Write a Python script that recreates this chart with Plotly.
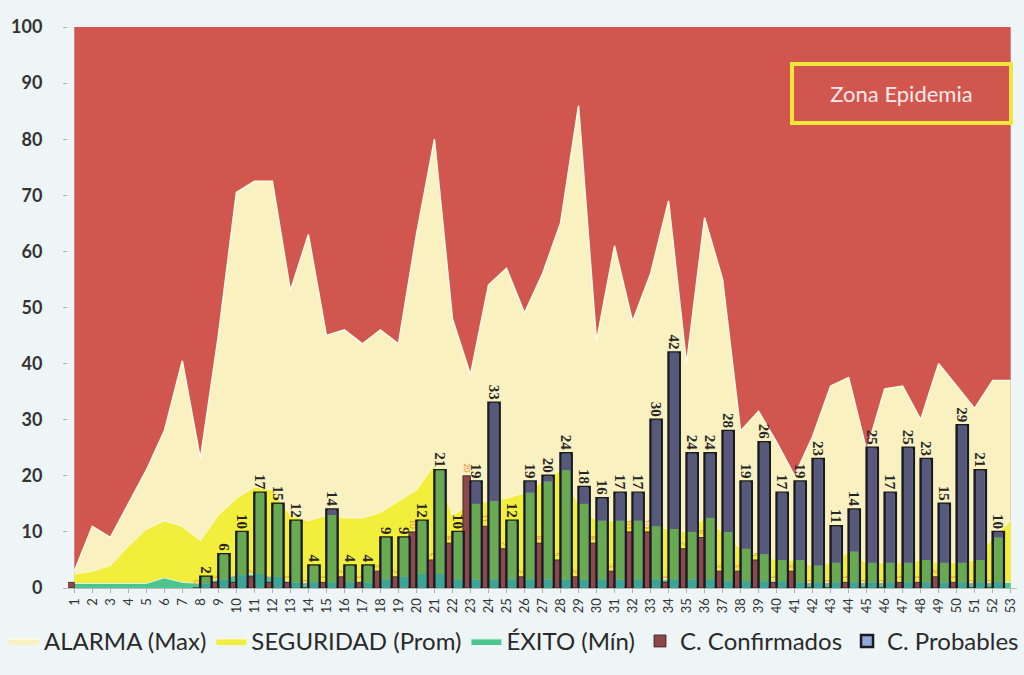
import plotly.graph_objects as go

weeks = list(range(1, 54))
week_labels = [str(w) for w in weeks]

zona_epidemia = [100] * 53

alarma_max = [3, 11, 9, 15, 21, 28, 40.5, 23, 45, 70.5,
              72.5, 72.5, 53, 63, 45, 46, 43.5, 46, 43.5, 63,
              80, 48, 38, 54, 57, 49, 56, 65, 86, 44,
              61, 47.5, 56, 69, 40, 66, 55, 28, 31.5, 26,
              20, 27, 36, 37.5, 24.5, 35.5, 36, 30, 40, 36,
              32, 37, 37]

seguridad_prom = [2.5, 3, 4, 7.5, 10.5, 12, 11, 8.5, 13, 16,
                  18, 17.5, 13, 12, 13, 12.5, 12.5, 13.5, 15.5, 17.5,
                  22, 13, 15, 15.5, 16, 17, 19, 21, 15, 12,
                  12, 12, 11, 10.5, 10, 12.5, 10, 7, 6, 5,
                  5, 4, 4.5, 6.5, 4.5, 4.5, 4.5, 5, 4.5, 4.5,
                  5, 9, 12]

exito_min = [0.8, 0.8, 0.8, 0.8, 0.8, 1.8, 1, 0.8, 1.5, 2.3,
             2.5, 2, 1, 1, 1, 1, 1, 1.5, 2, 2.5,
             2.5, 1.5, 1.5, 1.5, 1.5, 1.5, 1.5, 1.5, 1.5, 1.5,
             1.5, 1.5, 1.5, 1.5, 1.5, 1.5, 1.2, 1.2, 1.2, 1.2,
             1, 1, 1, 1, 1, 1, 1, 1, 1, 1,
             1, 1, 1]

c_confirmados = [1, None, None, None, None, None, None,
                 0, 1, 1, 2, 1, 1, 0, 1, 2, 1,
                 3, 2, 10, 5, 8, 20, 11, 7, 2, 8,
                 5, 2, 8, 3, 10, 10, 1, 7, 9, 3,
                 3, 5, 1, 3, 0, 0, 1, 0, 0, 1,
                 1, 2, 1, 0, 0,
                 None]

c_probables = [None, None, None, None, None, None, None,
               2, 6, 10, 17, 15, 12, 4, 14, 4, 4,
               9, 9, 12, 21, 10, 19, 33, 12, 19, 20,
               24, 18, 16, 17, 17, 30, 42, 24, 24, 28,
               19, 26, 17, 19, 23, 11, 14, 25, 17, 25,
               23, 15, 29, 21, 10,
               None]

RED = "#d1564e"
CREAM = "#f9f1bf"
YELLOW = "#f1ee3c"
GREEN = "#4cc58e"
BROWN = "#8d484c"
BAR_GREEN = "#67aa52"
BAR_GRAY = "#56597a"
BAR_TEAL = "#3aa595"
FONT = "Lato, sans-serif"

fig = go.Figure()

# --- areas (main axes, drawn below) ---
fig.add_trace(go.Scatter(x=weeks, y=zona_epidemia, mode="lines", fill="tozeroy",
                         fillcolor=RED, line=dict(width=0, color=RED),
                         showlegend=False, hoverinfo="skip"))
fig.add_trace(go.Scatter(x=weeks, y=alarma_max, name="ALARMA (Max)", mode="lines",
                         fill="tozeroy", fillcolor=CREAM,
                         line=dict(color="#fffbe8", width=1.5)))
fig.add_trace(go.Scatter(x=weeks, y=seguridad_prom, name="SEGURIDAD (Prom)", mode="lines",
                         fill="tozeroy", fillcolor=YELLOW,
                         line=dict(color="#fbf8d0", width=1.2)))
fig.add_trace(go.Scatter(x=weeks, y=exito_min, name="ÉXITO (Mín)", mode="lines",
                         fill="tozeroy", fillcolor=GREEN,
                         line=dict(color="#d8f5e6", width=1)))

# --- bars (overlay axes, drawn above the areas) ---
conf_text = ["" if (v is None or i < 7) else str(v) for i, v in enumerate(c_confirmados)]
fig.add_trace(go.Bar(x=weeks, y=c_confirmados, name="C. Confirmados",
                     xaxis="x2", yaxis="y2", offset=-0.42, width=0.42,
                     marker=dict(color=BROWN, line=dict(color="#3b1c1c", width=0.8)),
                     text=conf_text, textposition="outside", textangle=90,
                     constraintext="none",
                     textfont=dict(size=8, color="#f0883a", family=FONT),
                     cliponaxis=False))
fig.add_trace(go.Bar(x=weeks, y=c_probables, name="C. Probables",
                     xaxis="x2", yaxis="y2", offset=0.0, width=0.62,
                     marker=dict(color="#8fa7da", line=dict(color="#1b1b1f", width=2.5)),
                     text=[("" if v is None else str(v)) for v in c_probables],
                     textposition="outside", textangle=90, constraintext="none",
                     textfont=dict(size=15, color="#26262a", family="Liberation Serif", weight="bold"),
                     cliponaxis=False))

teal_part = [None if p is None else min(p, e) for p, e in zip(c_probables, exito_min)]
green_part = [None if p is None else min(p, s) - min(p, e)
              for p, s, e in zip(c_probables, seguridad_prom, exito_min)]
gray_part = [None if p is None else p - min(p, s) for p, s in zip(c_probables, seguridad_prom)]
gray_base = [None if p is None else min(p, s) for p, s in zip(c_probables, seguridad_prom)]

for vals, base, col in [(teal_part, None, BAR_TEAL), (green_part, teal_part, BAR_GREEN),
                        (gray_part, gray_base, BAR_GRAY)]:
    fig.add_trace(go.Bar(x=weeks, y=vals, base=base, xaxis="x2", yaxis="y2",
                         offset=0.075, width=0.47, marker=dict(color=col, line=dict(width=0)),
                         showlegend=False, hoverinfo="skip"))

xr = [0.65, 53.35]
fig.update_layout(
    width=1024, height=675,
    margin=dict(l=65, r=7, t=27, b=87),
    paper_bgcolor="#eef5f6", plot_bgcolor="rgba(0,0,0,0)",
    barmode="overlay",
    showlegend=True,
    legend=dict(orientation="h", x=-0.064, xanchor="left", y=-0.055, yanchor="top",
                font=dict(size=24, color="#2a2a2a", family=FONT),
                bgcolor="rgba(0,0,0,0)", traceorder="normal", itemwidth=30),
    xaxis=dict(range=xr, tickmode="array", tickvals=weeks, ticktext=week_labels,
               tickangle=-90, tickfont=dict(size=13, color="#333", family=FONT),
               showline=True, linecolor="#b9b9b9", ticks="outside", ticklen=4,
               tickcolor="#b0b0b0", showgrid=False, zeroline=False, automargin=False),
    yaxis=dict(range=[0, 100], dtick=10,
               tickfont=dict(size=18, color="#333", family=FONT, weight="bold"),
               showgrid=False, zeroline=False, ticks="outside", ticklen=4, tickcolor="#b0b0b0",
               ticklabelstandoff=17, showline=False, automargin=False),
    xaxis2=dict(range=xr, overlaying="x", visible=False),
    yaxis2=dict(range=[0, 100], overlaying="y", visible=False),
    annotations=[dict(x=0.8787, y=0.8815, xref="paper", yref="paper",
                      xanchor="center", yanchor="middle",
                      text="Zona Epidemia", showarrow=False,
                      font=dict(size=22, color="#fbeaea", family=FONT),
                      width=215, height=55, borderpad=0,
                      bordercolor="#f3e63a", borderwidth=4,
                      bgcolor="rgba(0,0,0,0)")],
)

fig.write_html("out.html", config={"displayModeBar": False},
               post_script="document.body.style.margin='0';")
